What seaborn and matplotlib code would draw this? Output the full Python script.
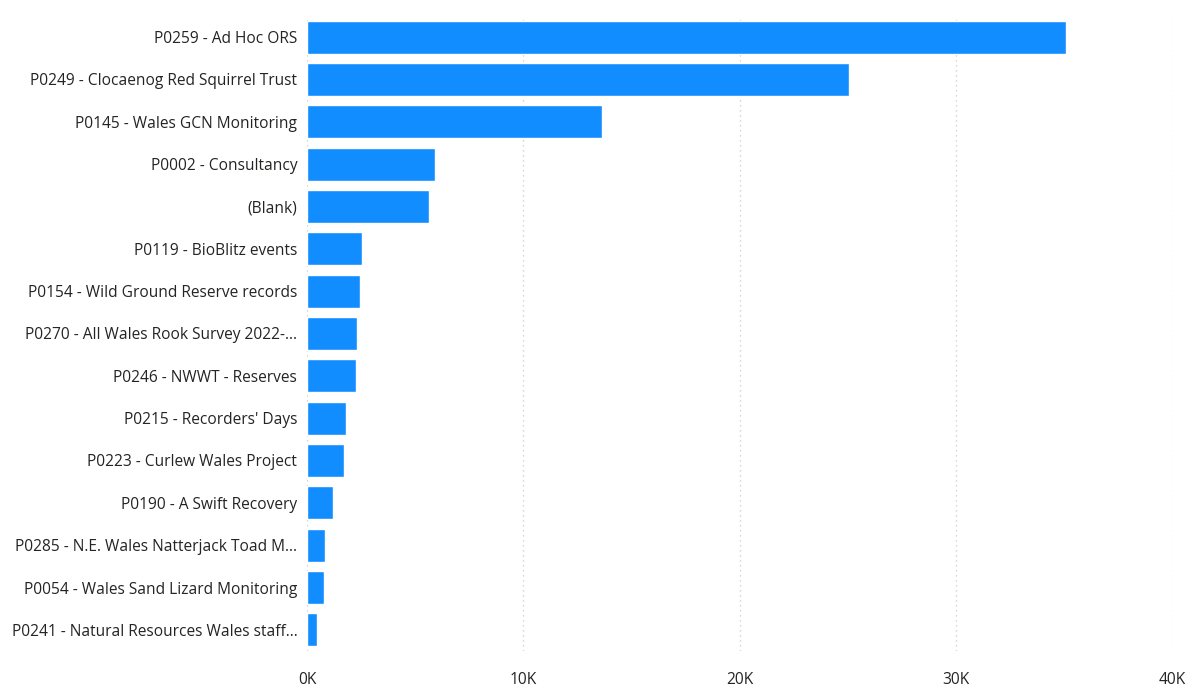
import matplotlib
matplotlib.use("Agg")
import matplotlib.pyplot as plt
import seaborn as sns
import pandas as pd
from matplotlib.ticker import FuncFormatter

categories = [
    "P0259 - Ad Hoc ORS",
    "P0249 - Clocaenog Red Squirrel Trust",
    "P0145 - Wales GCN Monitoring",
    "P0002 - Consultancy",
    "(Blank)",
    "P0119 - BioBlitz events",
    "P0154 - Wild Ground Reserve records",
    "P0270 - All Wales Rook Survey 2022-...",
    "P0246 - NWWT - Reserves",
    "P0215 - Recorders' Days",
    "P0223 - Curlew Wales Project",
    "P0190 - A Swift Recovery",
    "P0285 - N.E. Wales Natterjack Toad M...",
    "P0054 - Wales Sand Lizard Monitoring",
    "P0241 - Natural Resources Wales staff...",
]
values = [35100, 25050, 13650, 5920, 5650, 2540, 2450, 2320, 2270, 1820, 1720, 1220, 840, 800, 470]
x_ticks = [0, 10000, 20000, 30000, 40000]

df = pd.DataFrame({"project": categories, "records": values})

sns.set_theme(style="white")
plt.rcParams["font.family"] = ["Open Sans", "DejaVu Sans"]

fig = plt.figure(figsize=(11.86, 6.90), dpi=100)
ax = fig.add_axes([0.2589, 0.0565, 0.7293, 0.9205])

sns.barplot(data=df, x="records", y="project", color="#118DFF", saturation=1,
            width=0.78, ax=ax, orient="h")

ax.set_xlim(0, 40000)
ax.set_xticks(x_ticks)
ax.xaxis.set_major_formatter(FuncFormatter(lambda v, p: f"{int(v/1000)}K"))
ax.set_xlabel("")
ax.set_ylabel("")
for s in ax.spines.values():
    s.set_visible(False)
ax.grid(axis="x", color="#C8C8C8", linestyle=(0, (1, 3)), linewidth=0.9)
ax.set_axisbelow(True)
ax.tick_params(axis="both", length=0, labelsize=11.2, labelcolor="#252423")
ax.tick_params(axis="y", pad=7)
ax.tick_params(axis="x", pad=15)

fig.savefig("out.png", dpi=100)
